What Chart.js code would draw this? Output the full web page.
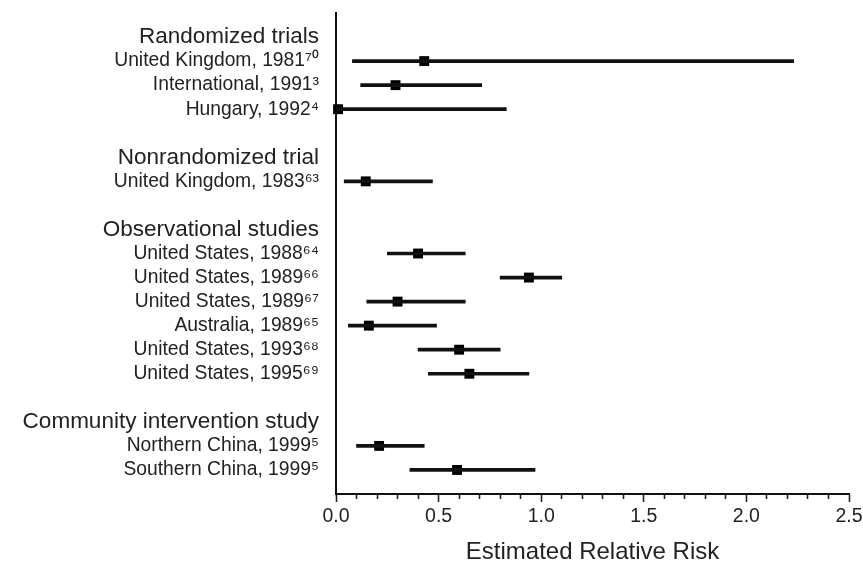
<!DOCTYPE html>
<html>
<head>
<meta charset="utf-8">
<script src="https://cdn.jsdelivr.net/npm/chart.js@4/dist/chart.umd.min.js"></script>
<style>
  body { margin: 0; background: #fff; }
  #wrap { width: 863px; height: 564px; }
</style>
</head>
<body>
<div id="wrap"><canvas id="forestChart"></canvas></div>
<script>
const groupNames = ['Randomized trials', 'Nonrandomized trial', 'Observational studies', 'Community intervention study'];
const studyLabels = ['United Kingdom, 1981', 'International, 1991', 'Hungary, 1992', 'United Kingdom, 1983',
    'United States, 1988', 'United States, 1989', 'United States, 1989', 'Australia, 1989',
    'United States, 1993', 'United States, 1995', 'Northern China, 1999', 'Southern China, 1999'];
const studyRefs = ['70', '3', '4', '63', '64', '66', '67', '65', '68', '69', '5', '5'];
const studyGroup = [0, 0, 0, 1, 2, 2, 2, 2, 2, 2, 3, 3];
const estimate = [0.43, 0.29, 0.01, 0.145, 0.40, 0.94, 0.30, 0.16, 0.60, 0.65, 0.21, 0.59];
const lowerCI = [0.08, 0.12, 0.0, 0.04, 0.25, 0.80, 0.15, 0.06, 0.40, 0.45, 0.10, 0.36];
const upperCI = [2.23, 0.71, 0.83, 0.47, 0.63, 1.10, 0.63, 0.49, 0.80, 0.94, 0.43, 0.97];
const xTicks = { min: 0, max: 2.5, major: 0.5, minor: 0.1 };

const SUP = '⁰¹²³⁴⁵⁶⁷⁸⁹';
const sup = s => s.split('').map(d => SUP[+d]).join('');

// lay out rows: header, its studies, then a blank row
const rowText = {};
const headerRows = [];
const studyRow = [];
let row = 0;
groupNames.forEach((g, gi) => {
    rowText[row] = g;
    headerRows.push(row);
    row++;
    studyLabels.forEach((s, i) => {
        if (studyGroup[i] !== gi) return;
        rowText[row] = s + sup(studyRefs[i]);
        studyRow[i] = row;
        row++;
    });
    row++;
});
const lastRow = row - 1;

const isMajor = v => Math.round(v * 10) % Math.round(xTicks.major * 10) === 0;

const ctx = document.getElementById('forestChart').getContext('2d');
new Chart(ctx, {
    type: 'bar',
    data: {
        datasets: [{
            type: 'bar',
            data: studyLabels.map((s, i) => ({ x: [lowerCI[i], upperCI[i]], y: studyRow[i] })),
            backgroundColor: '#111',
            barThickness: 3,
            borderWidth: 0
        }, {
            type: 'scatter',
            data: studyLabels.map((s, i) => ({ x: estimate[i], y: studyRow[i] })),
            pointStyle: 'rect',
            pointRadius: 7,
            backgroundColor: '#000',
            borderWidth: 0,
            clip: false
        }]
    },
    options: {
        indexAxis: 'y',
        responsive: true,
        maintainAspectRatio: false,
        animation: false,
        layout: { padding: { left: 0, right: 14, top: 13, bottom: 0 } },
        plugins: { legend: { display: false }, tooltip: { enabled: false } },
        scales: {
            x: {
                type: 'linear',
                min: xTicks.min,
                max: xTicks.max,
                offset: false,
                afterFit: s => { s.height = 70; s.paddingLeft = 0; s.paddingRight = 0; },
                ticks: {
                    stepSize: xTicks.minor,
                    autoSkip: false,
                    maxRotation: 0,
                    padding: 3,
                    color: '#222',
                    font: { family: 'Liberation Sans', size: 19.5 },
                    callback: v => (isMajor(v) ? v.toFixed(1) : '')
                },
                grid: {
                    drawOnChartArea: false,
                    offset: false,
                    tickLength: 8,
                    tickWidth: 1.6,
                    tickColor: '#222',
                    tickBorderDash: c => (c.tick && !isMajor(c.tick.value) ? [4, 100] : [])
                },
                border: { display: true, color: '#111', width: 2 },
                title: {
                    display: true,
                    text: 'Estimated Relative Risk',
                    color: '#222',
                    font: { family: 'Liberation Sans', size: 24, lineHeight: 1.0 },
                    padding: 0
                }
            },
            y: {
                type: 'linear',
                reverse: true,
                min: -1,
                max: lastRow,
                offset: false,
                afterFit: s => { s.width = 336; s.paddingTop = 0; s.paddingBottom = 0; },
                ticks: {
                    stepSize: 1,
                    autoSkip: false,
                    padding: 17,
                    color: '#222',
                    font: c => (c.tick && headerRows.includes(c.tick.value)
                        ? { family: 'Liberation Sans', size: 22.5 }
                        : { family: 'Liberation Sans', size: 19.3 }),
                    callback: v => rowText[v] || ''
                },
                grid: { display: false, drawTicks: false, offset: false },
                border: { display: true, color: '#111', width: 2 }
            }
        }
    }
});
</script>
</body>
</html>
